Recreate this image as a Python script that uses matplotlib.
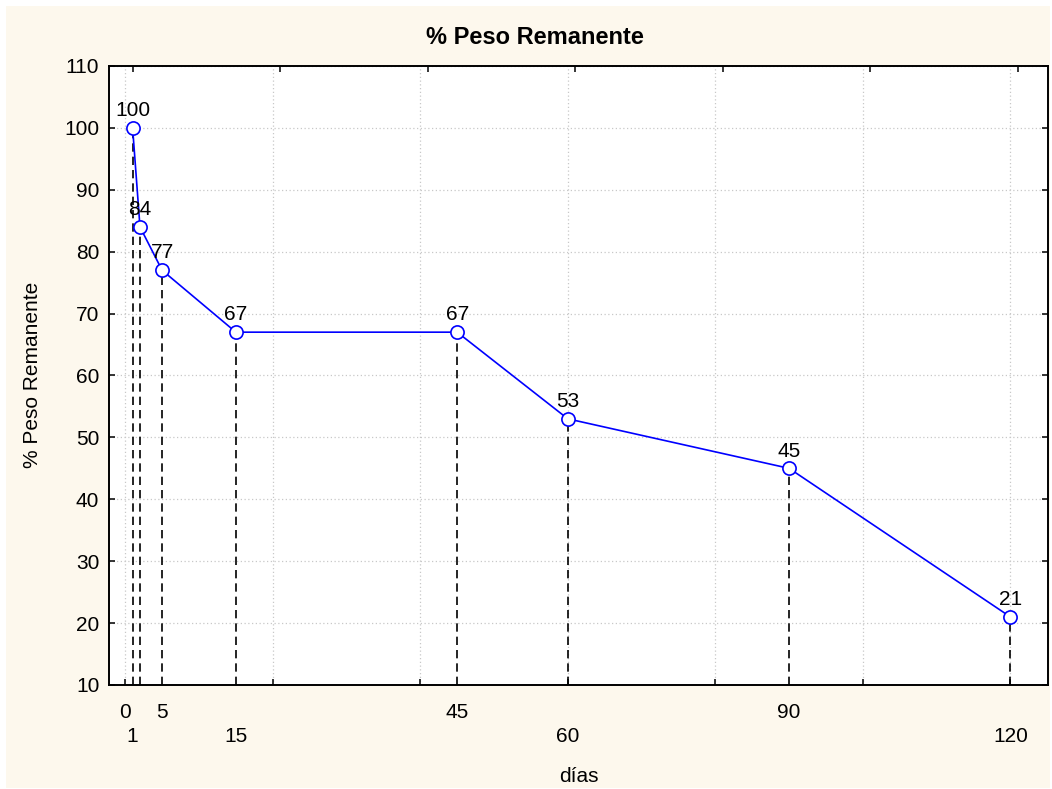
import numpy as np
import matplotlib
matplotlib.use("Agg")
import matplotlib.pyplot as plt
from matplotlib.patches import Rectangle

plt.rcParams['font.family'] = ['Liberation Sans', 'DejaVu Sans']

# Sampling days and remaining weight (%)
dias = [1, 2, 5, 15, 45, 60, 90, 120]
peso = [100, 84, 77, 67, 67, 53, 45, 21]

# Day labels shown under the axis, split in two staggered rows
etiquetas_fila1 = [0, 5, 45, 90]
etiquetas_fila2 = [1, 15, 60, 120]

W, H = 1052, 789
fig = plt.figure(figsize=(W / 100, H / 100), dpi=100)
fig.patch.set_facecolor('white')
fig.add_artist(Rectangle((6 / W, 1 / H), 1044 / W, 782 / H, transform=fig.transFigure,
                         facecolor='#fdf8ed', edgecolor='none', zorder=-10))

left, right, top, bottom = 109 / W, 1048 / W, 66 / H, 685 / H
ax = fig.add_axes([left, 1 - bottom, right - left, bottom - top])
ax.set_facecolor('white')
ax.set_xlim(-2.2, 125.1)
ax.set_ylim(10, 110)

# grid
ax.set_xticks(np.arange(0, 121, 20))
ax.set_xticklabels([])
ax.set_yticks(np.arange(10, 111, 10))
ax.grid(True, color='#c8c8c8', linestyle=(0, (1, 2)), linewidth=0.9)
ax.set_axisbelow(True)

ax.tick_params(axis='both', direction='in', length=4, width=1.1, labelsize=15,
               colors='black')
ax.tick_params(axis='y', right=True, pad=7)
for s in ax.spines.values():
    s.set_linewidth(1.4)
    s.set_color('black')

# secondary ticks along the top edge
ax2 = ax.twiny()
ax2.set_xlim(ax.get_xlim())
ax2.set_xticks(np.arange(1, 122, 20))
ax2.set_xticklabels([])
ax2.tick_params(axis='x', direction='in', length=4, width=1.1)
for s in ax2.spines.values():
    s.set_visible(False)

# drop lines
ax.vlines(dias, 10, peso, colors='black', linestyles=(0, (5, 3)), linewidth=1.2, zorder=2)

# series
ax.plot(dias, peso, color='#0000ff', linewidth=1.2, marker='o', markersize=9.5,
        markerfacecolor='white', markeredgecolor='#0000ff', markeredgewidth=1.2,
        zorder=4, clip_on=False)

for x, y in zip(dias, peso):
    ax.annotate(f"{y:.0f}", (x, y), xytext=(0, 8.5), textcoords='offset points',
                ha='center', va='baseline', fontsize=15, zorder=5)

tr = ax.get_xaxis_transform()
for d in etiquetas_fila1:
    ax.text(d, -27 / 619, str(d), transform=tr, ha='center', va='center', fontsize=15)
for d in etiquetas_fila2:
    ax.text(d, -52 / 619, str(d), transform=tr, ha='center', va='center', fontsize=15)

fig.text(535 / W, 1 - 37 / H, '% Peso Remanente', ha='center', va='center',
         fontsize=17, fontweight='bold')
fig.text(33 / W, 1 - 375 / H, '% Peso Remanente', ha='center', va='center',
         fontsize=15, rotation=90)
fig.text(578.5 / W, 1 - 776 / H, 'días', ha='center', va='center', fontsize=15)

fig.savefig('out.png', dpi=100)
